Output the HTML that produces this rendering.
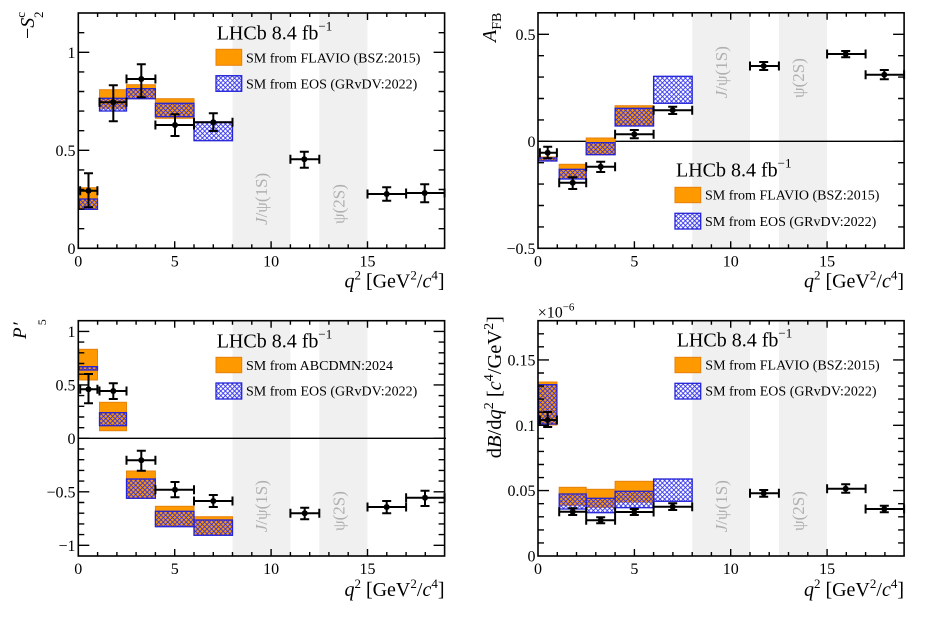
<!DOCTYPE html>
<html><head><meta charset="utf-8"><style>
html,body{margin:0;padding:0;background:#fff}
svg{display:block}
text{font-family:"Liberation Serif","DejaVu Serif",serif;fill:#000}
.o{fill:#ff9900;stroke:#e5820c;stroke-width:1}
.b{fill:url(#h);stroke:#2323d8;stroke-width:1.3}
.band{fill:#f0f0f0}
.g{fill:#b0b0b0;font-size:17px}
.tk{stroke:#000;stroke-width:1.4;fill:none}
.fr{fill:none;stroke:#000;stroke-width:1.6}
.eb{stroke:#000;stroke-width:2;fill:none}
.t16{font-size:16px}
</style></head><body>
<svg width="949" height="617" viewBox="0 0 949 617" xmlns="http://www.w3.org/2000/svg">
<defs>
<pattern id="h" patternUnits="userSpaceOnUse" width="4.6" height="4.6"><path d="M-1,-1L5.6,5.6M5.6,-1L-1,5.6" stroke="#2a2af0" stroke-width="0.85"/></pattern>
</defs>
<rect width="949" height="617" fill="#fff"/>

<!-- ===== Panel 1 ===== -->
<rect class="band" x="232.5" y="13" width="57.9" height="235.3"/>
<rect class="band" x="319.3" y="13" width="48.2" height="235.3"/>
<text class="g" transform="translate(267,225) rotate(-90)"><tspan font-style="italic">J</tspan>/ψ(1S)</text>
<text class="g" transform="translate(344.5,224) rotate(-90)">ψ(2S)</text>
<g>
<rect class="o" x="79.5" y="187.7" width="18" height="21.6"/>
<rect class="o" x="99.5" y="89.7" width="27" height="18.6"/>
<rect class="o" x="126.5" y="84.7" width="28.9" height="14"/>
<rect class="o" x="155.4" y="98.7" width="38.6" height="19.6"/>
<rect class="b" x="79.5" y="199" width="18" height="10.3"/>
<rect class="b" x="99.5" y="98.3" width="27" height="12.7"/>
<rect class="b" x="126.5" y="88.7" width="28.9" height="10"/>
<rect class="b" x="155.4" y="103.3" width="38.6" height="13.4"/>
<rect class="b" x="194" y="122" width="38.5" height="18.7"/>
</g>
<path class="eb" d="M80.2,190.7H97.4M80.2,186.2V195.2M97.4,186.2V195.2M88.5,173.3V207.3M84,173.3H93M84,207.3H93
M99.5,102.3H126.5M99.5,97.8V106.8M126.5,97.8V106.8M113.3,85.3V121.3M108.8,85.3H117.8M108.8,121.3H117.8
M126.5,79H155.4M126.5,74.5V83.5M155.4,74.5V83.5M141.3,64.3V97.3M136.8,64.3H145.8M136.8,97.3H145.8
M155.4,125H194M155.4,120.5V129.5M194,120.5V129.5M175,114.3V136M170.5,114.3H179.5M170.5,136H179.5
M194,122.3H232.5M194,117.8V126.8M232.5,117.8V126.8M213.3,113.3V131M208.8,113.3H217.8M208.8,131H217.8
M290.4,159.3H319.3M290.4,154.8V163.8M319.3,154.8V163.8M304.3,151.7V167.7M299.8,151.7H308.8M299.8,167.7H308.8
M367.5,194H406.1M367.5,189.5V198.5M406.1,189.5V198.5M386.7,187.3V200.7M382.2,187.3H391.2M382.2,200.7H391.2
M406.1,193H444.6M406.1,188.5V197.5M444.6,188.5V197.5M424.7,184.3V202.3M420.2,184.3H429.2M420.2,202.3H429.2"/>
<g fill="#000"><circle cx="88.5" cy="190.7" r="3"/><circle cx="113.3" cy="102.3" r="3"/><circle cx="141.3" cy="79" r="3"/><circle cx="175" cy="125" r="3"/><circle cx="213.3" cy="122.3" r="3"/><circle cx="304.3" cy="159.3" r="3"/><circle cx="386.7" cy="194" r="3"/><circle cx="424.7" cy="193" r="3"/></g>
<path class="tk" d="M97.6,248.3v-4M116.9,248.3v-4M136.1,248.3v-4M155.4,248.3v-4M194,248.3v-4M213.3,248.3v-4M232.5,248.3v-4M251.8,248.3v-4M290.4,248.3v-4M309.7,248.3v-4M328.9,248.3v-4M348.2,248.3v-4M386.8,248.3v-4M406.1,248.3v-4M425.3,248.3v-4M174.7,248.3v-7M271.1,248.3v-7M367.5,248.3v-7
M97.6,13v4M116.9,13v4M136.1,13v4M155.4,13v4M194,13v4M213.3,13v4M232.5,13v4M251.8,13v4M290.4,13v4M309.7,13v4M328.9,13v4M348.2,13v4M386.8,13v4M406.1,13v4M425.3,13v4M174.7,13v7M271.1,13v7M367.5,13v7
M78.3,228.7h6M78.3,209.1h6M78.3,189.5h6M78.3,169.9h6M78.3,130.7h6M78.3,111.1h6M78.3,91.5h6M78.3,71.9h6M78.3,32.7h6M78.3,150.3h11M78.3,52.3h11
M444.6,228.7h-6M444.6,209.1h-6M444.6,189.5h-6M444.6,169.9h-6M444.6,130.7h-6M444.6,111.1h-6M444.6,91.5h-6M444.6,71.9h-6M444.6,32.7h-6M444.6,150.3h-11M444.6,52.3h-11"/>
<rect class="fr" x="78.3" y="13" width="366.3" height="235.3"/>
<g class="t16" text-anchor="end"><text x="75.5" y="253.8">0</text><text x="75.5" y="155.8">0.5</text><text x="75.5" y="57.8">1</text></g>
<g class="t16" text-anchor="middle"><text x="78.3" y="266.7">0</text><text x="174.7" y="266.7">5</text><text x="271.1" y="266.7">10</text><text x="367.5" y="266.7">15</text></g>
<text x="444.5" y="287.3" text-anchor="end" font-size="20"><tspan font-style="italic">q</tspan><tspan font-size="13" dy="-8">2</tspan><tspan dy="8"> [GeV</tspan><tspan font-size="13" dy="-8">2</tspan><tspan dy="8">/</tspan><tspan font-style="italic">c</tspan><tspan font-size="13" dy="-8">4</tspan><tspan dy="8">]</tspan></text>
<text transform="translate(34,39) rotate(-90)" font-size="20">−<tspan font-style="italic">S</tspan><tspan font-size="13" dy="-9">c</tspan><tspan font-size="13" dx="-6" dy="18">2</tspan></text>
<text x="216.7" y="39.3" font-size="20">LHCb 8.4 fb<tspan font-size="13" dy="-9">−1</tspan></text>
<rect class="o" x="216" y="49.3" width="25.7" height="16"/>
<text x="246" y="62.5" font-size="14">SM from FLAVIO (BSZ:2015)</text>
<rect class="b" x="216" y="75.7" width="25.7" height="15.6"/>
<text x="246" y="88.5" font-size="14">SM from EOS (GRvDV:2022)</text>

<!-- ===== Panel 2 ===== -->
<rect class="band" x="692.2" y="12.8" width="57.8" height="235.5"/>
<rect class="band" x="778.9" y="12.8" width="48.2" height="235.5"/>
<text class="g" transform="translate(727,98.3) rotate(-90)"><tspan font-style="italic">J</tspan>/ψ(1S)</text>
<text class="g" transform="translate(804,98) rotate(-90)">ψ(2S)</text>
<path d="M538,141.3H904.1" stroke="#000" stroke-width="1.4"/>
<g>
<rect class="o" x="538.5" y="157" width="18.4" height="3.5"/>
<rect class="o" x="559.2" y="164.3" width="27" height="14.7"/>
<rect class="o" x="586.2" y="138" width="28.9" height="16.7"/>
<rect class="o" x="615.1" y="105.7" width="38.5" height="20.3"/>
<rect class="b" x="538.5" y="158" width="18.4" height="3"/>
<rect class="b" x="559.2" y="169.3" width="27" height="9.7"/>
<rect class="b" x="586.2" y="142.7" width="28.9" height="12"/>
<rect class="b" x="615.1" y="108.3" width="38.5" height="17.7"/>
<rect class="b" x="653.6" y="76.3" width="38.6" height="27"/>
</g>
<path class="eb" d="M539.9,152.7H556.9M539.9,148.2V157.2M556.9,148.2V157.2M547.7,146.7V158.3M543.2,146.7H552.2M543.2,158.3H552.2
M559.2,182.7H586.2M559.2,178.2V187.2M586.2,178.2V187.2M572.7,177.3V189M568.2,177.3H577.2M568.2,189H577.2
M586.2,166.7H615.1M586.2,162.2V171.2M615.1,162.2V171.2M600.7,161.7V172M596.2,161.7H605.2M596.2,172H605.2
M615.1,134.3H653.6M615.1,129.8V138.8M653.6,129.8V138.8M634.3,130V138.3M629.8,130H638.8M629.8,138.3H638.8
M653.6,110.3H692.2M653.6,105.8V114.8M692.2,105.8V114.8M672.7,106.7V114M668.2,106.7H677.2M668.2,114H677.2
M750,66H778.9M750,61.5V70.5M778.9,61.5V70.5M763.7,62V70M759.2,62H768.2M759.2,70H768.2
M827.1,54H865.6M827.1,49.5V58.5M865.6,49.5V58.5M845.7,51V57.3M841.2,51H850.2M841.2,57.3H850.2
M865.6,74.7H904.1M865.6,70.2V79.2M904.1,70.2V79.2M884.3,70V79.3M879.8,70H888.8M879.8,79.3H888.8"/>
<g fill="#000"><circle cx="547.7" cy="152.7" r="3"/><circle cx="572.7" cy="182.7" r="3"/><circle cx="600.7" cy="166.7" r="3"/><circle cx="634.3" cy="134.3" r="3"/><circle cx="672.7" cy="110.3" r="3"/><circle cx="763.7" cy="66" r="3"/><circle cx="845.7" cy="54" r="3"/><circle cx="884.3" cy="74.7" r="3"/></g>
<path class="tk" d="M557.3,248.3v-4M576.5,248.3v-4M595.8,248.3v-4M615.1,248.3v-4M653.6,248.3v-4M672.9,248.3v-4M692.2,248.3v-4M711.4,248.3v-4M750,248.3v-4M769.2,248.3v-4M788.5,248.3v-4M807.8,248.3v-4M846.3,248.3v-4M865.6,248.3v-4M884.9,248.3v-4M634.4,248.3v-7M730.7,248.3v-7M827.1,248.3v-7
M557.3,12.8v4M576.5,12.8v4M595.8,12.8v4M615.1,12.8v4M653.6,12.8v4M672.9,12.8v4M692.2,12.8v4M711.4,12.8v4M750,12.8v4M769.2,12.8v4M788.5,12.8v4M807.8,12.8v4M846.3,12.8v4M865.6,12.8v4M884.9,12.8v4M634.4,12.8v7M730.7,12.8v7M827.1,12.8v7
M538,226.9h6M538,205.5h6M538,184.1h6M538,162.7h6M538,119.9h6M538,98.5h6M538,77.1h6M538,55.7h6M538,141.3h11M538,34.3h11
M904.1,226.9h-6M904.1,205.5h-6M904.1,184.1h-6M904.1,162.7h-6M904.1,119.9h-6M904.1,98.5h-6M904.1,77.1h-6M904.1,55.7h-6M904.1,141.3h-11M904.1,34.3h-11"/>
<rect class="fr" x="538" y="12.8" width="366.1" height="235.5"/>
<g class="t16" text-anchor="end"><text x="535.5" y="253.8">−0.5</text><text x="535.5" y="146.8">0</text><text x="535.5" y="39.8">0.5</text></g>
<g class="t16" text-anchor="middle"><text x="538" y="266.7">0</text><text x="634.4" y="266.7">5</text><text x="730.7" y="266.7">10</text><text x="827.1" y="266.7">15</text></g>
<text x="904" y="287.3" text-anchor="end" font-size="20"><tspan font-style="italic">q</tspan><tspan font-size="13" dy="-8">2</tspan><tspan dy="8"> [GeV</tspan><tspan font-size="13" dy="-8">2</tspan><tspan dy="8">/</tspan><tspan font-style="italic">c</tspan><tspan font-size="13" dy="-8">4</tspan><tspan dy="8">]</tspan></text>
<text transform="translate(496,42) rotate(-90)" font-size="20"><tspan font-style="italic">A</tspan><tspan font-size="14" dy="5">FB</tspan></text>
<text x="676" y="176.7" font-size="20">LHCb 8.4 fb<tspan font-size="13" dy="-9">−1</tspan></text>
<rect class="o" x="675" y="187.3" width="25.7" height="15.4"/>
<text x="705" y="199.7" font-size="14">SM from FLAVIO (BSZ:2015)</text>
<rect class="b" x="675" y="213.3" width="25.7" height="15.7"/>
<text x="705" y="226" font-size="14">SM from EOS (GRvDV:2022)</text>

<!-- ===== Panel 3 ===== -->
<rect class="band" x="232.5" y="320.7" width="57.9" height="235.3"/>
<rect class="band" x="319.3" y="320.7" width="48.2" height="235.3"/>
<text class="g" transform="translate(267,532.3) rotate(-90)"><tspan font-style="italic">J</tspan>/ψ(1S)</text>
<text class="g" transform="translate(344.5,531) rotate(-90)">ψ(2S)</text>
<path d="M78.3,438.35H446" stroke="#000" stroke-width="1.4"/>
<g>
<rect class="o" x="79.5" y="349.3" width="18" height="30.7"/>
<rect class="o" x="99.5" y="402.3" width="27" height="28.4"/>
<rect class="o" x="126.5" y="471" width="28.9" height="27.3"/>
<rect class="o" x="155.4" y="506.3" width="38.6" height="19.4"/>
<rect class="o" x="194" y="516.7" width="38.5" height="18.3"/>
<rect class="b" x="79.5" y="366.7" width="18" height="3.3"/>
<rect class="b" x="99.5" y="412.7" width="27" height="13"/>
<rect class="b" x="126.5" y="479" width="28.9" height="19.3"/>
<rect class="b" x="155.4" y="511.3" width="38.6" height="15.4"/>
<rect class="b" x="194" y="520" width="38.5" height="15.3"/>
</g>
<path class="eb" d="M80.2,389.3H97.4M80.2,384.8V393.8M97.4,384.8V393.8M88.5,374V403.3M84,374H93M84,403.3H93
M99.5,391H126.5M99.5,386.5V395.5M126.5,386.5V395.5M113.3,383.3V399M108.8,383.3H117.8M108.8,399H117.8
M126.5,460.3H155.4M126.5,455.8V464.8M155.4,455.8V464.8M141.3,450.7V470.7M136.8,450.7H145.8M136.8,470.7H145.8
M155.4,489.7H194M155.4,485.2V494.2M194,485.2V494.2M175,482V497.3M170.5,482H179.5M170.5,497.3H179.5
M194,501H232.5M194,496.5V505.5M232.5,496.5V505.5M213.3,495V507M208.8,495H217.8M208.8,507H217.8
M290.4,513.3H319.3M290.4,508.8V517.8M319.3,508.8V517.8M304.7,507.7V519.3M300.2,507.7H309.2M300.2,519.3H309.2
M367.5,507H406.1M367.5,502.5V511.5M406.1,502.5V511.5M386.7,501V513.3M382.2,501H391.2M382.2,513.3H391.2
M406.1,497.7H444.6M406.1,493.2V502.2M444.6,493.2V502.2M425,490.7V506M420.5,490.7H429.5M420.5,506H429.5"/>
<g fill="#000"><circle cx="88.5" cy="389.3" r="3"/><circle cx="113.3" cy="391" r="3"/><circle cx="141.3" cy="460.3" r="3"/><circle cx="175" cy="489.7" r="3"/><circle cx="213.3" cy="501" r="3"/><circle cx="304.7" cy="513.3" r="3"/><circle cx="386.7" cy="507" r="3"/><circle cx="425" cy="497.7" r="3"/></g>
<path class="tk" d="M97.6,556v-4M116.9,556v-4M136.1,556v-4M155.4,556v-4M194,556v-4M213.3,556v-4M232.5,556v-4M251.8,556v-4M290.4,556v-4M309.7,556v-4M328.9,556v-4M348.2,556v-4M386.8,556v-4M406.1,556v-4M425.3,556v-4M174.7,556v-7M271.1,556v-7M367.5,556v-7
M97.6,320.7v4M116.9,320.7v4M136.1,320.7v4M155.4,320.7v4M194,320.7v4M213.3,320.7v4M232.5,320.7v4M251.8,320.7v4M290.4,320.7v4M309.7,320.7v4M328.9,320.7v4M348.2,320.7v4M386.8,320.7v4M406.1,320.7v4M425.3,320.7v4M174.7,320.7v7M271.1,320.7v7M367.5,320.7v7
M78.3,342.1h6M78.3,352.8h6M78.3,363.5h6M78.3,374.2h6M78.3,395.6h6M78.3,406.3h6M78.3,417h6M78.3,427.7h6M78.3,449h6M78.3,459.7h6M78.3,470.4h6M78.3,481.1h6M78.3,502.5h6M78.3,513.2h6M78.3,523.9h6M78.3,534.6h6M78.3,331.4h11M78.3,384.9h11M78.3,438.35h11M78.3,491.8h11M78.3,545.3h11
M444.6,342.1h-6M444.6,352.8h-6M444.6,363.5h-6M444.6,374.2h-6M444.6,395.6h-6M444.6,406.3h-6M444.6,417h-6M444.6,427.7h-6M444.6,449h-6M444.6,459.7h-6M444.6,470.4h-6M444.6,481.1h-6M444.6,502.5h-6M444.6,513.2h-6M444.6,523.9h-6M444.6,534.6h-6M444.6,331.4h-11M444.6,384.9h-11M444.6,438.35h-11M444.6,491.8h-11M444.6,545.3h-11"/>
<rect class="fr" x="78.3" y="320.7" width="366.3" height="235.3"/>
<g class="t16" text-anchor="end"><text x="75.5" y="336.9">1</text><text x="75.5" y="390.4">0.5</text><text x="75.5" y="443.9">0</text><text x="75.5" y="497.3">−0.5</text><text x="75.5" y="550.8">−1</text></g>
<g class="t16" text-anchor="middle"><text x="78.3" y="573.8">0</text><text x="174.7" y="573.8">5</text><text x="271.1" y="573.8">10</text><text x="367.5" y="573.8">15</text></g>
<text x="444.5" y="596" text-anchor="end" font-size="20"><tspan font-style="italic">q</tspan><tspan font-size="13" dy="-8">2</tspan><tspan dy="8"> [GeV</tspan><tspan font-size="13" dy="-8">2</tspan><tspan dy="8">/</tspan><tspan font-style="italic">c</tspan><tspan font-size="13" dy="-8">4</tspan><tspan dy="8">]</tspan></text>
<text transform="translate(26,339) rotate(-90)" font-size="19"><tspan font-style="italic">P</tspan><tspan dx="2">′</tspan><tspan font-size="12" dx="-4" dy="20">5</tspan></text>
<text x="216.7" y="347.3" font-size="20">LHCb 8.4 fb<tspan font-size="13" dy="-9">−1</tspan></text>
<rect class="o" x="216" y="357.3" width="25.7" height="15.4"/>
<text x="246" y="370" font-size="14">SM from ABCDMN:2024</text>
<rect class="b" x="216" y="383" width="25.7" height="16"/>
<text x="246" y="395.7" font-size="14">SM from EOS (GRvDV:2022)</text>

<!-- ===== Panel 4 ===== -->
<rect class="band" x="692.2" y="320.7" width="57.8" height="235.3"/>
<rect class="band" x="778.9" y="320.7" width="48.2" height="235.3"/>
<text class="g" transform="translate(727,532.3) rotate(-90)"><tspan font-style="italic">J</tspan>/ψ(1S)</text>
<text class="g" transform="translate(804,531) rotate(-90)">ψ(2S)</text>
<g>
<rect class="o" x="538.5" y="382" width="18.4" height="43"/>
<rect class="o" x="559.2" y="487.3" width="27" height="18"/>
<rect class="o" x="586.2" y="489.3" width="28.9" height="18"/>
<rect class="o" x="615.1" y="481.3" width="38.5" height="20.7"/>
<rect class="b" x="538.5" y="384.7" width="18.4" height="39.3"/>
<rect class="b" x="559.2" y="494" width="27" height="15"/>
<rect class="b" x="586.2" y="498.3" width="28.9" height="14.4"/>
<rect class="b" x="615.1" y="491.3" width="38.5" height="16.4"/>
<rect class="b" x="653.6" y="479" width="38.6" height="22.3"/>
</g>
<path class="eb" d="M539.9,420H556.9M539.9,415.5V424.5M556.9,415.5V424.5M547.7,412V427M543.2,412H552.2M543.2,427H552.2
M559.2,511.7H586.2M559.2,507.2V516.2M586.2,507.2V516.2M572.7,508.3V515M568.2,508.3H577.2M568.2,515H577.2
M586.2,520.3H615.1M586.2,515.8V524.8M615.1,515.8V524.8M600.7,517.3V523.3M596.2,517.3H605.2M596.2,523.3H605.2
M615.1,512H653.6M615.1,507.5V516.5M653.6,507.5V516.5M634.3,509V515M629.8,509H638.8M629.8,515H638.8
M653.6,506.7H692.2M653.6,502.2V511.2M692.2,502.2V511.2M672.7,503.3V510M668.2,503.3H677.2M668.2,510H677.2
M750,493.3H778.9M750,488.8V497.8M778.9,488.8V497.8M763.7,490V496.7M759.2,490H768.2M759.2,496.7H768.2
M827.1,488.7H865.6M827.1,484.2V493.2M865.6,484.2V493.2M845.7,484.3V492.7M841.2,484.3H850.2M841.2,492.7H850.2
M865.6,509H904.1M865.6,504.5V513.5M904.1,504.5V513.5M884.3,505.7V512.3M879.8,505.7H888.8M879.8,512.3H888.8"/>
<g fill="#000"><circle cx="547.7" cy="420" r="3"/><circle cx="572.7" cy="511.7" r="3"/><circle cx="600.7" cy="520.3" r="3"/><circle cx="634.3" cy="512" r="3"/><circle cx="672.7" cy="506.7" r="3"/><circle cx="763.7" cy="493.3" r="3"/><circle cx="845.7" cy="488.7" r="3"/><circle cx="884.3" cy="509" r="3"/></g>
<path class="tk" d="M557.3,556v-4M576.5,556v-4M595.8,556v-4M615.1,556v-4M653.6,556v-4M672.9,556v-4M692.2,556v-4M711.4,556v-4M750,556v-4M769.2,556v-4M788.5,556v-4M807.8,556v-4M846.3,556v-4M865.6,556v-4M884.9,556v-4M634.4,556v-7M730.7,556v-7M827.1,556v-7
M557.3,320.7v4M576.5,320.7v4M595.8,320.7v4M615.1,320.7v4M653.6,320.7v4M672.9,320.7v4M692.2,320.7v4M711.4,320.7v4M750,320.7v4M769.2,320.7v4M788.5,320.7v4M807.8,320.7v4M846.3,320.7v4M865.6,320.7v4M884.9,320.7v4M634.4,320.7v7M730.7,320.7v7M827.1,320.7v7
M538,542.9h6M538,529.9h6M538,516.8h6M538,503.7h6M538,477.6h6M538,464.5h6M538,451.4h6M538,438.4h6M538,412.2h6M538,399.1h6M538,386.1h6M538,373h6M538,346.8h6M538,333.8h6M538,490.6h11M538,425.3h11M538,359.9h11
M904.1,542.9h-6M904.1,529.9h-6M904.1,516.8h-6M904.1,503.7h-6M904.1,477.6h-6M904.1,464.5h-6M904.1,451.4h-6M904.1,438.4h-6M904.1,412.2h-6M904.1,399.1h-6M904.1,386.1h-6M904.1,373h-6M904.1,346.8h-6M904.1,333.8h-6M904.1,490.6h-11M904.1,425.3h-11M904.1,359.9h-11"/>
<rect class="fr" x="538" y="320.7" width="366.1" height="235.3"/>
<g class="t16" text-anchor="end"><text x="535.5" y="561.5">0</text><text x="535.5" y="496.1">0.05</text><text x="535.5" y="430.8">0.1</text><text x="535.5" y="365.4">0.15</text></g>
<g class="t16" text-anchor="middle"><text x="538" y="573.8">0</text><text x="634.4" y="573.8">5</text><text x="730.7" y="573.8">10</text><text x="827.1" y="573.8">15</text></g>
<text x="904" y="596" text-anchor="end" font-size="20"><tspan font-style="italic">q</tspan><tspan font-size="13" dy="-8">2</tspan><tspan dy="8"> [GeV</tspan><tspan font-size="13" dy="-8">2</tspan><tspan dy="8">/</tspan><tspan font-style="italic">c</tspan><tspan font-size="13" dy="-8">4</tspan><tspan dy="8">]</tspan></text>
<text transform="translate(501,316) rotate(-90)" text-anchor="end" font-size="20.5">d<tspan font-style="italic">B</tspan>/d<tspan font-style="italic">q</tspan><tspan font-size="14" dy="-8">2</tspan><tspan dy="8"> [</tspan><tspan font-style="italic">c</tspan><tspan font-size="14" dy="-8">4</tspan><tspan dy="8">/GeV</tspan><tspan font-size="14" dy="-8">2</tspan><tspan dy="8">]</tspan></text>
<text x="537.7" y="317.5" font-size="16">×10<tspan font-size="11" dy="-7">−6</tspan></text>
<text x="676.7" y="346.7" font-size="20">LHCb 8.4 fb<tspan font-size="13" dy="-9">−1</tspan></text>
<rect class="o" x="675" y="357.3" width="25.7" height="15.4"/>
<text x="705.3" y="369.5" font-size="14">SM from FLAVIO (BSZ:2015)</text>
<rect class="b" x="675" y="383.3" width="25.7" height="15.7"/>
<text x="705.3" y="395.5" font-size="14">SM from EOS (GRvDV:2022)</text>
</svg>
</body></html>
